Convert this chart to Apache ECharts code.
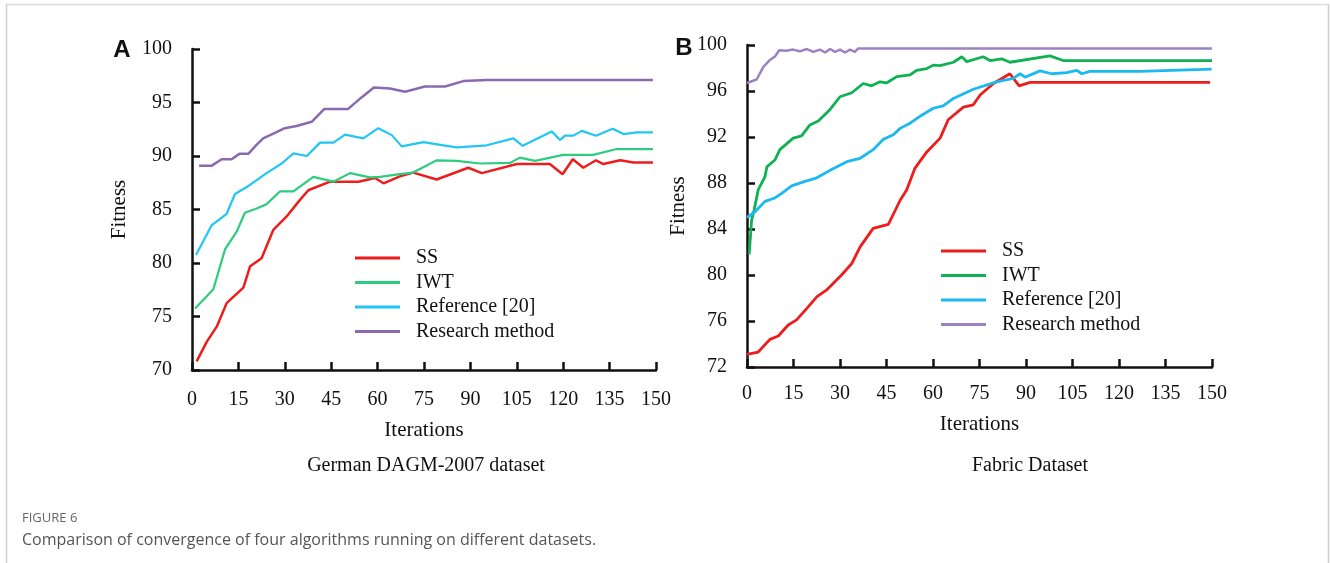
<!DOCTYPE html>
<html>
<head>
<meta charset="utf-8">
<script src="https://cdn.jsdelivr.net/npm/echarts@6/dist/echarts.min.js"></script>
<style>
html,body{margin:0;padding:0;background:#fff;}
#c{width:1330px;height:563px;}
</style>
</head>
<body>
<div id="c"></div>
<script>
// ---- Data ----
var seriesNames = ['SS', 'IWT', 'Reference [20]', 'Research method'];
var xTicksA = [0, 15, 30, 45, 60, 75, 90, 105, 120, 135, 150];
var yTicksA = [70, 75, 80, 85, 90, 95, 100];
var yTicksB = [72, 76, 80, 84, 88, 92, 96, 100];

// Panel A: German DAGM-2007 dataset
var A_SS_x = [1.5, 4.8, 8, 11.2, 16.6, 18.8, 22.5, 26.3, 30.6, 34.9, 37.6, 44.6, 53.8, 59.2, 61.9, 67.2, 71.5, 79.1, 89.3, 93.7, 105, 115.7, 119.8, 123.1, 126.5, 130.6, 133, 138.4, 142.7, 149];
var A_SS_y = [70.8, 72.65, 74.05, 76.25, 77.7, 79.7, 80.45, 83.1, 84.35, 85.9, 86.8, 87.6, 87.6, 87.95, 87.45, 88.1, 88.45, 87.8, 88.9, 88.4, 89.25, 89.25, 88.3, 89.7, 88.9, 89.6, 89.25, 89.6, 89.4, 89.4];

var A_IWT_x = [1, 6.9, 10.7, 14.4, 17.1, 20.9, 24.1, 28.5, 32.8, 39.2, 45.7, 51.1, 57.5, 60.8, 67.2, 71.5, 79.1, 85.6, 93.1, 102.8, 106, 110.9, 120, 129.7, 137.3, 149];
var A_IWT_y = [75.75, 77.55, 81.3, 82.9, 84.7, 85.1, 85.5, 86.7, 86.7, 88.05, 87.6, 88.4, 88.0, 88.05, 88.3, 88.45, 89.6, 89.55, 89.3, 89.35, 89.85, 89.55, 90.1, 90.1, 90.65, 90.65];

var A_REF_x = [1.3, 6.4, 11.2, 13.9, 17.7, 24.1, 29, 32.8, 37.1, 41.4, 45.7, 49.5, 55.4, 60.2, 64.6, 67.8, 74.8, 81.3, 85.6, 95.3, 103.9, 106.9, 116.3, 119, 120.6, 123.3, 126, 130.6, 136, 139.5, 143.8, 149];
var A_REF_y = [80.75, 83.55, 84.6, 86.45, 87.1, 88.4, 89.3, 90.25, 90.0, 91.25, 91.25, 92.0, 91.65, 92.6, 91.95, 90.9, 91.3, 91.0, 90.8, 91.0, 91.65, 90.95, 92.3, 91.5, 91.9, 91.9, 92.35, 91.9, 92.55, 92.05, 92.2, 92.2];

var A_RM_x = [2.3, 6.4, 9.6, 12.8, 15.3, 18.2, 20.7, 23, 26.3, 30, 33.8, 38.7, 42.8, 50.5, 54.9, 58.8, 64, 68.9, 75.3, 81.8, 87.7, 95.3, 149];
var A_RM_y = [89.1, 89.1, 89.7, 89.7, 90.2, 90.2, 91.0, 91.65, 92.1, 92.6, 92.8, 93.2, 94.4, 94.4, 95.5, 96.4, 96.3, 96.0, 96.5, 96.5, 97.0, 97.1, 97.1];

// Panel B: Fabric Dataset
var B_SS_x = [0, 3.6, 7.4, 10.1, 13.3, 16, 19.3, 22.5, 25.7, 30.5, 33.8, 36.5, 40.7, 45.6, 49.4, 51.5, 54.2, 58, 62.3, 64.9, 69.8, 73, 75.2, 79.5, 84.8, 87.8, 91.3, 149.4];
var B_SS_y = [73.1, 73.3, 74.4, 74.7, 75.65, 76.1, 77.1, 78.1, 78.7, 80.0, 81.0, 82.45, 84.05, 84.4, 86.5, 87.4, 89.3, 90.7, 91.9, 93.5, 94.6, 94.8, 95.65, 96.65, 97.5, 96.45, 96.75, 96.75];

var B_IWT_x = [0.7, 1.5, 2.3, 3.6, 5.8, 6.4, 9, 10.6, 14.9, 17.6, 20.3, 23, 26.8, 30, 33.8, 37.5, 40.2, 42.9, 45, 48.3, 52.6, 54.7, 58, 60.1, 62.3, 66.6, 69.3, 70.9, 76.2, 78.4, 82.2, 84.8, 97.7, 102, 150];
var B_IWT_y = [81.8, 84.8, 85.65, 87.4, 88.55, 89.4, 90.0, 90.9, 91.9, 92.1, 93.05, 93.4, 94.4, 95.5, 95.85, 96.65, 96.45, 96.8, 96.7, 97.25, 97.4, 97.8, 97.95, 98.25, 98.2, 98.5, 98.98, 98.55, 98.98, 98.65, 98.8, 98.5, 99.05, 98.65, 98.65];

var B_REF_x = [0, 2.6, 5.8, 9, 11.2, 14.4, 18.2, 22.5, 26.8, 32.2, 36.5, 40.7, 44, 47.2, 49.4, 52.6, 55.8, 60.1, 63.3, 66.6, 73, 80.5, 85.9, 88.1, 89.7, 94.5, 98.3, 103.1, 106.4, 108, 110.6, 126.7, 149.9];
var B_REF_y = [85.0, 85.5, 86.4, 86.7, 87.1, 87.75, 88.1, 88.45, 89.1, 89.85, 90.15, 90.9, 91.8, 92.2, 92.75, 93.2, 93.8, 94.5, 94.7, 95.35, 96.15, 96.8, 97.1, 97.5, 97.2, 97.75, 97.5, 97.6, 97.8, 97.5, 97.7, 97.7, 97.9];

var B_RM_x = [0, 3.1, 5.3, 7.4, 9, 10.4, 12.6, 14.9, 17, 19.3, 21.4, 23.5, 25.2, 26.8, 28.4, 30, 31.6, 33.2, 34.8, 35.9, 150];
var B_RM_y = [96.7, 97.0, 98.1, 98.7, 99.0, 99.55, 99.5, 99.6, 99.45, 99.65, 99.4, 99.6, 99.35, 99.65, 99.4, 99.6, 99.35, 99.6, 99.4, 99.7, 99.7];

// ---- Styling ----
var SERIF = '"Liberation Serif", "Times New Roman", serif';
var colorsA = ['#ee1d1d', '#2dcc7e', '#22c6f4', '#8a69b0'];
var colorsB = ['#ee1d1d', '#0fb152', '#1cb8f0', '#9b82c2'];

function pairs(xs, ys) {
  var out = [];
  for (var i = 0; i < xs.length; i++) out.push([xs[i], ys[i]]);
  return out;
}

function mkX(grid, name, gap, labelMargin) {
  return {
    gridIndex: grid, type: 'value', min: 0, max: 150, interval: 15,
    name: name, nameLocation: 'middle', nameGap: gap,
    nameTextStyle: {fontFamily: SERIF, fontSize: 21, color: '#111'},
    axisLine: {show: true, lineStyle: {color: '#111', width: 2.5}},
    axisTick: {show: true, inside: true, length: 8, lineStyle: {color: '#111', width: 2.5}},
    axisLabel: {fontFamily: SERIF, fontSize: 20, color: '#111', margin: labelMargin},
    splitLine: {show: false}
  };
}
function mkY(grid, min, max, interval, gap, labelMargin) {
  return {
    gridIndex: grid, type: 'value', min: min, max: max, interval: interval,
    name: 'Fitness', nameLocation: 'middle', nameGap: gap,
    nameTextStyle: {fontFamily: SERIF, fontSize: 21, color: '#111'},
    axisLine: {show: true, lineStyle: {color: '#111', width: 2.5}},
    axisTick: {show: true, inside: true, length: 8, lineStyle: {color: '#111', width: 2.5}},
    axisLabel: {fontFamily: SERIF, fontSize: 20, color: '#111', margin: labelMargin},
    splitLine: {show: false}
  };
}
function mkSeries(name, data, xi, color, w) {
  return {
    name: name, type: 'line', xAxisIndex: xi, yAxisIndex: xi, data: data,
    showSymbol: false, symbol: 'none', smooth: false,
    lineStyle: {color: color, width: w}, itemStyle: {color: color},
    emphasis: {disabled: true}
  };
}
function mkLegend(left, top, colors) {
  return {
    orient: 'vertical', left: left, top: top,
    icon: 'rect', itemWidth: 45, itemHeight: 3, itemGap: 4.5,
    selectedMode: false,
    textStyle: {fontFamily: SERIF, fontSize: 20, color: '#111', lineHeight: 20, padding: [0, 0, 0, 11]},
    data: seriesNames.map(function (n, i) { return {name: n, itemStyle: {color: colors[i]}}; })
  };
}

var chart = echarts.init(document.getElementById('c'), null, {renderer: 'canvas'});
chart.setOption({
  animation: false,
  backgroundColor: '#fff',
  grid: [
    {left: 192, top: 49, width: 464, height: 321},
    {left: 747, top: 45, width: 465, height: 322}
  ],
  xAxis: [mkX(0, 'Iterations', 50, 20), mkX(1, 'Iterations', 47, 17)],
  yAxis: [mkY(0, 70, 100, 5, 62, 20), mkY(1, 72, 100, 4, 58, 20)],
  legend: [mkLegend(350, 243, colorsA), mkLegend(936, 236, colorsB)],
  series: [
    mkSeries(seriesNames[0], pairs(A_SS_x, A_SS_y), 0, colorsA[0], 2.5),
    mkSeries(seriesNames[1], pairs(A_IWT_x, A_IWT_y), 0, colorsA[1], 2.2),
    mkSeries(seriesNames[2], pairs(A_REF_x, A_REF_y), 0, colorsA[2], 2.2),
    mkSeries(seriesNames[3], pairs(A_RM_x, A_RM_y), 0, colorsA[3], 2.5),
    mkSeries(seriesNames[0], pairs(B_SS_x, B_SS_y), 1, colorsB[0], 2.8),
    mkSeries(seriesNames[1], pairs(B_IWT_x, B_IWT_y), 1, colorsB[1], 2.8),
    mkSeries(seriesNames[2], pairs(B_REF_x, B_REF_y), 1, colorsB[2], 2.8),
    mkSeries(seriesNames[3], pairs(B_RM_x, B_RM_y), 1, colorsB[3], 2.5)
  ],
  graphic: [
    {type: 'line', silent: true, shape: {x1: 6, y1: 4.5, x2: 1329, y2: 4.5}, style: {stroke: '#dcdcdc', lineWidth: 1.5}},
    {type: 'line', silent: true, shape: {x1: 6.5, y1: 4, x2: 6.5, y2: 563}, style: {stroke: '#cfcfcf', lineWidth: 1.5}},
    {type: 'line', silent: true, shape: {x1: 1328.5, y1: 4, x2: 1328.5, y2: 563}, style: {stroke: '#cfcfcf', lineWidth: 1.5}},
    {type: 'text', silent: true, x: 122, y: 50, style: {text: 'A', font: 'bold 24px "Liberation Sans", Arial, sans-serif', fill: '#111', textAlign: 'center', textVerticalAlign: 'middle'}},
    {type: 'text', silent: true, x: 684, y: 48, style: {text: 'B', font: 'bold 24px "Liberation Sans", Arial, sans-serif', fill: '#111', textAlign: 'center', textVerticalAlign: 'middle'}},
    {type: 'text', silent: true, x: 426, y: 466, style: {text: 'German DAGM-2007 dataset', font: '20px ' + SERIF, fill: '#111', textAlign: 'center', textVerticalAlign: 'middle'}},
    {type: 'text', silent: true, x: 1030, y: 466, style: {text: 'Fabric Dataset', font: '20px ' + SERIF, fill: '#111', textAlign: 'center', textVerticalAlign: 'middle'}},
    {type: 'text', silent: true, x: 22, y: 518, style: {text: 'FIGURE 6', font: '13px "Open Sans", "Noto Sans", sans-serif', fill: '#666', textAlign: 'left', textVerticalAlign: 'middle'}},
    {type: 'text', silent: true, x: 22, y: 540, style: {text: 'Comparison of convergence of four algorithms running on different datasets.', font: '16px "Open Sans", "Noto Sans", sans-serif', fill: '#555', textAlign: 'left', textVerticalAlign: 'middle'}}
  ]
});
</script>
</body>
</html>
